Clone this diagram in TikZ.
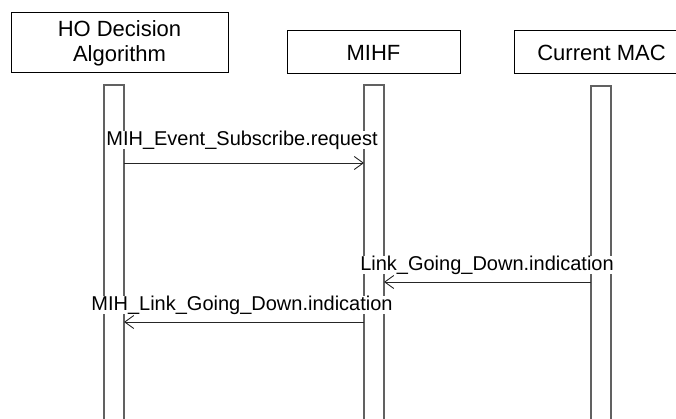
\documentclass[tikz,border=0pt]{standalone}
\usepackage{fontspec}
\setmainfont{Liberation Sans}
\usetikzlibrary{arrows.meta}
\begin{document}
\begin{tikzpicture}[x=1pt,y=-1pt,
  actor/.style={draw=black,line width=1pt,fill=white},
  actortext/.style={inner sep=0pt,align=center,font=\fontsize{22}{25}\selectfont},
  lifeline/.style={draw=black!62,line width=1.1pt,fill=white},
  msg/.style={draw=black!85,line width=0.9pt,-{Straight Barb[length=9pt,width=13pt,line width=0.9pt]}},
  msglabel/.style={inner sep=0pt,font=\fontsize{20}{23}\selectfont,fill=white}]
\useasboundingbox (0,0) rectangle (676,419);
\begin{scope}
\clip (0,0) rectangle (676,419);
% actor boxes
\draw[actor] (11,13) rectangle (228,73);
\node[actortext] (ho) at (119.5,43) {HO Decision\\Algorithm};
\draw[actor] (287,31) rectangle (460,74);
\node[actortext] (mihf) at (373.5,52.5) {MIHF};
\draw[actor] (514,31) rectangle (690,74);
\node[actortext] (mac) at (601.5,52.5) {Current MAC};
% lifelines
\draw[lifeline] (104,85) rectangle (124,425);
\draw[lifeline] (364,85) rectangle (384,425);
\draw[lifeline] (591,86) rectangle (611,425);
% anchor points on the activation bars
\coordinate (l1a) at (124,163);
\coordinate (l2a) at (364,163);
\coordinate (l3b) at (591,282);
\coordinate (l2b) at (384,282);
\coordinate (l2c) at (364,322);
\coordinate (l1c) at (124,322);
% messages
\draw[msg] (l1a) -- (l2a);
\draw[msg] (l3b) -- (l2b);
\draw[msg] (l2c) -- (l1c);
\node[msglabel] (m1) at (242,140) {MIH\_Event\_Subscribe.request};
\node[msglabel] (m2) at (487,265) {Link\_Going\_Down.indication};
\node[msglabel] (m3) at (242,305) {MIH\_Link\_Going\_Down.indication};
\end{scope}
\end{tikzpicture}
\end{document}
